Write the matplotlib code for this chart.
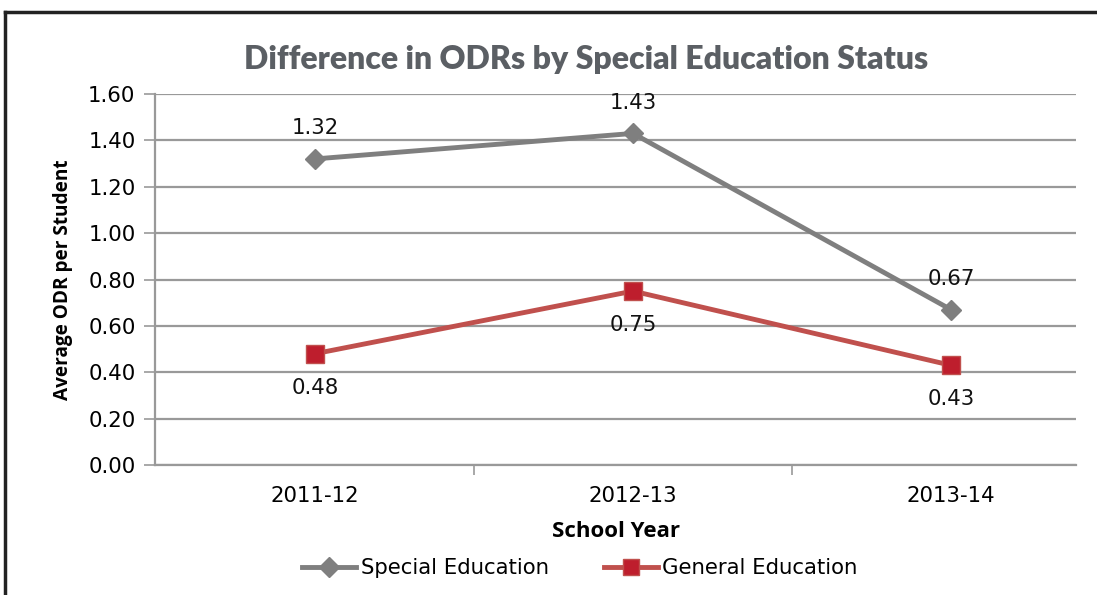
import matplotlib
matplotlib.use("Agg")
import matplotlib.pyplot as plt
from matplotlib.lines import Line2D

years = ["2011-12", "2012-13", "2013-14"]
special_ed = [1.32, 1.43, 0.67]
general_ed = [0.48, 0.75, 0.43]
yticks = [0.0, 0.2, 0.4, 0.6, 0.8, 1.0, 1.2, 1.4, 1.6]

W, H = 1097, 595
fig = plt.figure(figsize=(W / 100, H / 100), dpi=100)
ax = fig.add_axes([155 / W, 1 - 465 / H, (1076 - 155) / W, (465 - 94) / H])

x = list(range(len(years)))
gray = "#7f7f7f"
red_line = "#c0504d"
red_mark = "#be1e2d"

ax.plot(x, special_ed, color=gray, lw=3.5, marker="D", ms=10, mfc=gray, mec=gray, zorder=3)
ax.plot(x, general_ed, color=red_line, lw=3.5, marker="s", ms=13, mfc=red_mark, mec=red_line, zorder=3)

tfont = "DejaVu Sans"
fs = 15.3
for xi, v in zip(x, special_ed):
    ax.annotate(f"{v:.2f}", (xi, v), xytext=(0, 22), textcoords="offset points",
                ha="center", va="center", fontsize=fs, family=tfont, color="#111111")
for xi, v in zip(x, general_ed):
    ax.annotate(f"{v:.2f}", (xi, v), xytext=(0, -24.5), textcoords="offset points",
                ha="center", va="center", fontsize=fs, family=tfont, color="#111111")

ax.set_xlim(-0.503, 2.393)
ax.set_ylim(0, 1.6)
ax.set_yticks(yticks)
ax.set_yticklabels([f"{t:.2f}" for t in yticks], family=tfont, fontsize=fs)
ax.set_xticks(x)
ax.set_xticklabels(years, family=tfont, fontsize=fs)
ax.set_xticks([0.5, 1.5], minor=True)
ax.tick_params(axis="x", which="major", length=0, pad=15)
ax.tick_params(axis="x", which="minor", length=7, width=1.2, color="#999999")
ax.tick_params(axis="y", length=8, width=1.2, color="#999999", pad=6)
ax.grid(axis="y", color="#999999", lw=1.6)
ax.set_axisbelow(True)
for s in ["top", "right"]:
    ax.spines[s].set_visible(False)
ax.spines["left"].set_color("#999999")
ax.spines["bottom"].set_color("#999999")
ax.spines["left"].set_linewidth(1.6)
ax.spines["bottom"].set_linewidth(1.6)

ax.set_ylabel("Average ODR per Student", family="Open Sans", fontweight="bold", fontsize=13.7)
ax.yaxis.set_label_coords((73 - 155) / (1076 - 155), 0.5)
ax.set_xlabel("School Year", family="Open Sans", fontweight="bold", fontsize=16)
ax.xaxis.set_label_coords(0.5, -(521 - 465) / (465 - 94))

fig.text(586 / W, 1 - 60 / H, "Difference in ODRs by Special Education Status",
         ha="center", va="center", fontsize=23, fontweight="heavy", family="Lato", color="#5b5f64")

handles = [
    Line2D([], [], color=gray, lw=3.5, marker="D", ms=10, mfc=gray, mec=gray),
    Line2D([], [], color=red_line, lw=3.5, marker="s", ms=12, mfc=red_mark, mec=red_line),
]
fig.legend(handles, ["Special Education", "General Education"], loc="center",
           bbox_to_anchor=(580 / W, 1 - 568 / H), ncol=2, frameon=False,
           prop={"family": tfont, "size": fs}, handlelength=2.55, handletextpad=0.2,
           columnspacing=2.6)

# outer frame (top and left edges)
fig.add_artist(Line2D([5 / W, 1], [1 - 12 / H, 1 - 12 / H], transform=fig.transFigure, color="#222222", lw=2.5))
fig.add_artist(Line2D([5 / W, 5 / W], [0, 1 - 12 / H], transform=fig.transFigure, color="#222222", lw=2.5))

fig.savefig("out.png", dpi=100)
